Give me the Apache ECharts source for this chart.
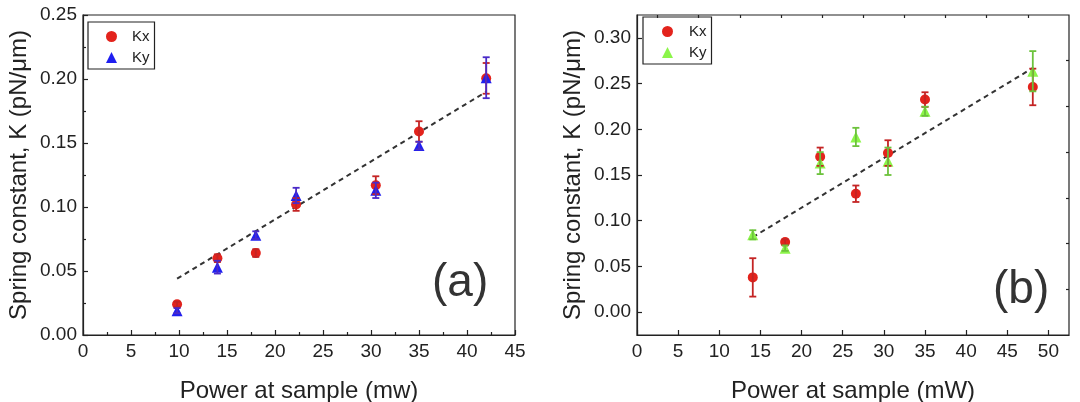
<!DOCTYPE html>
<html>
<head>
<meta charset="utf-8">
<script src="https://cdn.jsdelivr.net/npm/echarts@6/dist/echarts.min.js"></script>
<style>
  html, body { margin: 0; padding: 0; background: #fff; }
  #chart { width: 1080px; height: 402px; }
</style>
</head>
<body>
<div id="chart"></div>
<script>
// panel (a)
const xA = [9.8, 14, 18, 22.2, 30.5, 35, 42];
const kxA = [0.024, 0.060, 0.064, 0.102, 0.117, 0.159, 0.2005];
const kxErrA = [0.002, 0.003, 0.003, 0.005, 0.007, 0.008, 0.012];
const kyA = [0.019, 0.053, 0.078, 0.109, 0.113, 0.148, 0.201];
const kyErrA = [0.002, 0.005, 0.003, 0.006, 0.006, 0.003, 0.016];
const fitXA = [9.8, 42];
const fitYA = [0.044, 0.190];

// panel (b)
const xB = [14.07, 18, 22.26, 26.6, 30.5, 35, 48.1];
const kxB = [0.038, 0.0766, 0.170, 0.1295, 0.174, 0.2325, 0.2463];
const kxErrB = [0.021, 0.003, 0.010, 0.009, 0.014, 0.008, 0.020];
const kyB = [0.0846, 0.070, 0.163, 0.1916, 0.165, 0.2197, 0.2635];
const kyErrB = [0.005, 0.003, 0.012, 0.010, 0.015, 0.005, 0.022];
const fitXB = [14.07, 48.1];
const fitYB = [0.082, 0.267];

// tick labels of panel (b)
const xTicksB = [0, 5, 10, 15, 20, 25, 30, 35, 40, 45, 50];
const xMinorB = [2.5, 7.5, 12.5, 17.5, 22.5, 27.5, 32.5, 37.5, 42.5, 47.5];
const yTicksB = [0, 0.05, 0.10, 0.15, 0.20, 0.25, 0.30];
const yMinorB = [0.025, 0.075, 0.125, 0.175, 0.225, 0.275];

const FONT = 'Liberation Sans, Arial, sans-serif';
const INK = '#222';

const pairs = (xs, ys) => xs.map((x, i) => [x, ys[i]]);
const bars = (xs, ys, es) => xs.map((x, i) => [x, ys[i] - es[i], ys[i] + es[i]]);

const errorBar = (color) => {
  return function (params, api) {
    const top = api.coord([api.value(0), api.value(2)]);
    const bot = api.coord([api.value(0), api.value(1)]);
    const w = 3.5;
    const style = { stroke: color, lineWidth: 1.8 };
    return {
      type: 'group',
      children: [
        { type: 'line', shape: { x1: top[0], y1: top[1], x2: bot[0], y2: bot[1] }, style },
        { type: 'line', shape: { x1: top[0] - w, y1: top[1], x2: top[0] + w, y2: top[1] }, style },
        { type: 'line', shape: { x1: bot[0] - w, y1: bot[1], x2: bot[0] + w, y2: bot[1] }, style }
      ]
    };
  };
};

const labelStyle = { color: INK, fontSize: 19, fontFamily: FONT };
const nameStyle = { color: INK, fontSize: 24, fontFamily: FONT };
const lineStyle = { color: INK, width: 1.2 };

const xAxisBase = (grid) => ({
  type: 'value',
  gridIndex: grid,
  name: grid === 0 ? 'Power at sample (mw)' : 'Power at sample (mW)',
  nameLocation: 'middle',
  nameGap: 44,
  nameTextStyle: nameStyle,
  axisLine: { onZero: false, lineStyle },
  splitLine: { show: false },
  axisLabel: Object.assign({ margin: 7 }, labelStyle)
});

const yAxisBase = (grid) => ({
  type: 'value',
  gridIndex: grid,
  name: 'Spring constant, K (pN/\u03bcm)',
  nameLocation: 'middle',
  nameGap: 52,
  nameTextStyle: nameStyle,
  axisLine: { onZero: false, lineStyle },
  splitLine: { show: false }
});

const legendBase = (left, top, names, padLeft, textPad) => ({
  left, top,
  orient: 'vertical',
  data: names,
  formatter: (n) => n.replace(' (b)', ''),
  itemWidth: 11,
  itemHeight: 11,
  itemGap: 6,
  padding: [7, 5, 4, padLeft],
  borderColor: INK,
  borderWidth: 1.2,
  borderRadius: 0,
  selectedMode: false,
  textStyle: { color: INK, fontSize: 15, fontFamily: FONT, lineHeight: 13, padding: [0, 0, 0, textPad] }
});

const option = {
  animation: false,
  backgroundColor: '#fff',
  grid: [
    { left: 83, top: 15, width: 432, height: 320, show: true, borderColor: INK, borderWidth: 1.2, outerBoundsMode: 'none' },
    { left: 637, top: 15, width: 432, height: 320, show: true, borderColor: INK, borderWidth: 1.2, outerBoundsMode: 'none' }
  ],
  title: [
    { text: '(a)', left: 432, top: 260, padding: 0, textStyle: { fontSize: 46, fontWeight: 'normal', color: '#333', fontFamily: FONT } },
    { text: '(b)', left: 993, top: 267, padding: 0, textStyle: { fontSize: 46, fontWeight: 'normal', color: '#333', fontFamily: FONT } }
  ],
  legend: [
    legendBase(88, 22, ['Kx', 'Ky'], 18, 10),
    legendBase(643, 17, ['Kx (b)', 'Ky (b)'], 19, 11)
  ],
  xAxis: [
    Object.assign(xAxisBase(0), {
      min: 0, max: 45, interval: 5,
      axisTick: { inside: true, length: 5, lineStyle },
      minorTick: { show: true, splitNumber: 2, length: 3, lineStyle }
    }),
    Object.assign(xAxisBase(1), {
      min: 0, max: 52.5,
      axisTick: { inside: true, length: 5, lineStyle, customValues: xTicksB },
      axisLabel: Object.assign({ margin: 7, customValues: xTicksB }, labelStyle)
    }),
    {
      type: 'value', gridIndex: 1, min: 0, max: 52.5,
      axisLine: { show: false, onZero: false }, axisLabel: { show: false }, splitLine: { show: false },
      axisTick: { inside: true, length: 3, lineStyle, customValues: xMinorB }
    }
  ],
  yAxis: [
    Object.assign(yAxisBase(0), {
      min: 0, max: 0.25, interval: 0.05,
      axisTick: { inside: true, length: 5, lineStyle },
      minorTick: { show: true, splitNumber: 2, length: 3, lineStyle },
      axisLabel: Object.assign({ margin: 6, formatter: (v) => v.toFixed(2) }, labelStyle)
    }),
    Object.assign(yAxisBase(1), {
      min: -0.025, max: 0.325,
      axisTick: { inside: true, length: 5, lineStyle, customValues: yTicksB },
      axisLabel: Object.assign({ margin: 6, customValues: yTicksB, formatter: (v) => v.toFixed(2) }, labelStyle)
    }),
    {
      type: 'value', gridIndex: 1, min: -0.025, max: 0.325,
      axisLine: { show: false, onZero: false }, axisLabel: { show: false }, splitLine: { show: false },
      axisTick: { inside: true, length: 3, lineStyle, customValues: yMinorB }
    }
  ],
  series: [
    // panel (a)
    { type: 'line', xAxisIndex: 0, yAxisIndex: 0, data: pairs(fitXA, fitYA), symbol: 'none',
      lineStyle: { color: '#333', width: 2, type: [5, 4] }, z: 1 },
    { name: 'Kx', type: 'scatter', xAxisIndex: 0, yAxisIndex: 0, data: pairs(xA, kxA),
      symbol: 'circle', symbolSize: 10, itemStyle: { color: '#e3231c', opacity: 1 }, z: 2 },
    { name: 'Ky', type: 'scatter', xAxisIndex: 0, yAxisIndex: 0, data: pairs(xA, kyA),
      symbol: 'triangle', symbolSize: 11, itemStyle: { color: '#1f1ff0', opacity: 1 }, z: 3 },
    { type: 'custom', xAxisIndex: 0, yAxisIndex: 0, data: bars(xA, kxA, kxErrA),
      renderItem: errorBar('#c42424'), encode: { x: 0, y: [1, 2] }, z: 4 },
    { type: 'custom', xAxisIndex: 0, yAxisIndex: 0, data: bars(xA, kyA, kyErrA),
      renderItem: errorBar('#4a2ac8'), encode: { x: 0, y: [1, 2] }, z: 4 },
    // panel (b)
    { type: 'line', xAxisIndex: 1, yAxisIndex: 1, data: pairs(fitXB, fitYB), symbol: 'none',
      lineStyle: { color: '#333', width: 2, type: [5, 4] }, z: 1 },
    { name: 'Kx (b)', type: 'scatter', xAxisIndex: 1, yAxisIndex: 1, data: pairs(xB, kxB),
      symbol: 'circle', symbolSize: 10, itemStyle: { color: '#e3231c', opacity: 1 }, z: 2 },
    { name: 'Ky (b)', type: 'scatter', xAxisIndex: 1, yAxisIndex: 1, data: pairs(xB, kyB),
      symbol: 'triangle', symbolSize: 11, itemStyle: { color: '#8cf54a', opacity: 1 }, z: 3 },
    { type: 'custom', xAxisIndex: 1, yAxisIndex: 1, data: bars(xB, kxB, kxErrB),
      renderItem: errorBar('#c42424'), encode: { x: 0, y: [1, 2] }, z: 4 },
    { type: 'custom', xAxisIndex: 1, yAxisIndex: 1, data: bars(xB, kyB, kyErrB),
      renderItem: errorBar('#6cc23c'), encode: { x: 0, y: [1, 2] }, z: 4 }
  ]
};

const chart = echarts.init(document.getElementById('chart'));
chart.setOption(option);
</script>
</body>
</html>
